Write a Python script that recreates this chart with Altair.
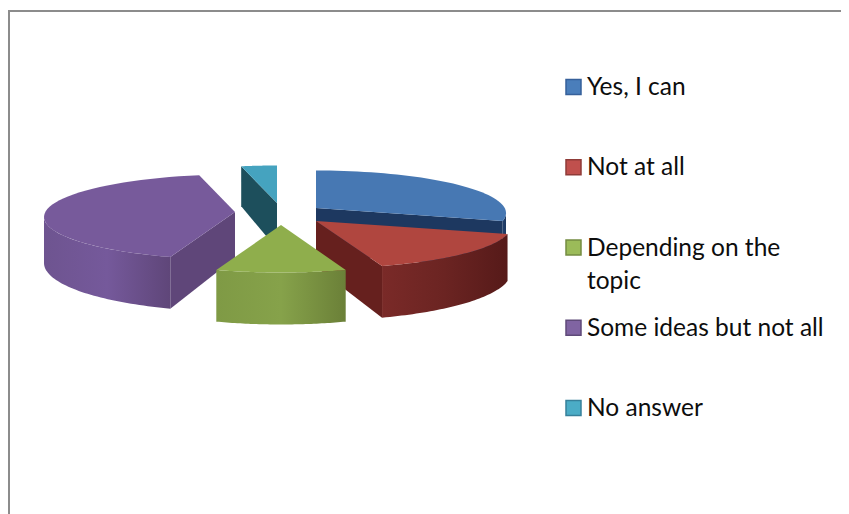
import math
import altair as alt

# ---- data -------------------------------------------------------------
categories = ["Yes, I can", "Not at all", "Depending on the\ntopic",
              "Some ideas but not all", "No answer"]
shares = [28, 16.5, 11, 41.5, 3]

# ---- styling ----------------------------------------------------------
top_colors = ["#4778B3", "#B0463F", "#8FAE4C", "#775A9B", "#45A3BF"]
legend_fill = ["#4A7EBB", "#C0504D", "#9BBB59", "#8064A2", "#4BACC6"]
legend_edge = ["#36609A", "#8F3B38", "#748C42", "#5F4A79", "#37809A"]
face_colors = ["#1D3860", "#66201E", "#6B8038", "#5F4679", "#1D4F5C"]
wall_stops = [
    ["#21406E", "#1D3860"],
    ["#7A2A28", "#6B2422", "#561A19"],
    ["#7F9A45", "#86A24A", "#6B8038"],
    ["#6E5490", "#75599B", "#5F4679"],
    ["#1D4F5C", "#1D4F5C"],
]

# ---- projection of the tilted pie (page pixels, less the 8px margin) ---
apex = [(308, 200), (308, 213), (273, 217), (227, 204), (269, 195)]
radius_x = [190, 195, 191, 191, 191]
RY, SHIFT = 42.5, 5


def rim(a, theta, rx):
    return [a[0] + rx * math.sin(theta),
            a[1] + SHIFT - RY * math.cos(theta)]


def drop(theta):
    return 46 - 6 * math.cos(theta)


def down(p, h):
    return [p[0], p[1] + h]


def angles(t0, t1, n=48):
    return [t0 + (t1 - t0) * i / n for i in range(n + 1)]


def shape(chain, fill):
    ring = [list(p) for p in chain] + [list(chain[0])]
    feature = {"type": "Feature", "properties": {},
               "geometry": {"type": "Polygon", "coordinates": [ring]}}
    return alt.Chart(alt.Data(values=[feature])).mark_geoshape(
        fill=fill, stroke="transparent", strokeWidth=0
    ).project(type="identity", scale=1, translate=[0, 0], reflectY=False)


def gradient(cols):
    n = len(cols) - 1
    return alt.Gradient(
        gradient="linear", x1=0, x2=1, y1=0, y2=0,
        stops=[alt.GradientStop(color=c, offset=i / n) for i, c in enumerate(cols)],
    )


spans = []
acc = 0
for s in shares:
    spans.append((acc / sum(shares) * 2 * math.pi,
                  (acc + s) / sum(shares) * 2 * math.pi))
    acc += s

layers = []
# frame
layers.append(alt.Chart(alt.Data(values=[{"a": 0}])).mark_rule(
    color="#8C8C8C", strokeWidth=2
).encode(x=alt.value(1), y=alt.value(2), y2=alt.value(506)))
layers.append(alt.Chart(alt.Data(values=[{"a": 0}])).mark_rule(
    color="#8C8C8C", strokeWidth=2
).encode(x=alt.value(0), x2=alt.value(833), y=alt.value(3)))

for i in [4, 3, 0, 1, 2]:
    t0, t1 = spans[i]
    a = apex[i]
    rx = radius_x[i]
    lo, hi = max(t0, math.pi / 2), min(t1, 3 * math.pi / 2)
    if hi > lo:
        ts = angles(lo, hi)
        chain = [rim(a, t, rx) for t in ts] + [down(rim(a, t, rx), drop(t)) for t in reversed(ts)]
        layers.append(shape(chain, gradient(wall_stops[i])))
    if t1 < math.pi:
        p = rim(a, t1, rx)
        layers.append(shape([a, p, down(p, drop(t1)), down(a, 46)], face_colors[i]))
    if t0 > math.pi:
        p = rim(a, t0, rx)
        layers.append(shape([a, p, down(p, drop(t0)), down(a, 46)], face_colors[i]))
    layers.append(shape([a] + [rim(a, t, rx) for t in angles(t0, t1)], top_colors[i]))

legend_rows = alt.Data(values=[{"name": n} for n in categories])
row_y = alt.Y("name:N", axis=None,
              scale=alt.Scale(type="point", domain=categories, range=[79, 400], padding=0))
layers.append(alt.Chart(legend_rows).mark_square(size=225, opacity=1, strokeWidth=1.5).encode(
    x=alt.value(565.5), y=row_y,
    fill=alt.Fill("name:N", scale=alt.Scale(domain=categories, range=legend_fill), legend=None),
    stroke=alt.Stroke("name:N", scale=alt.Scale(domain=categories, range=legend_edge), legend=None),
))
layers.append(alt.Chart(legend_rows).mark_text(
    align="left", baseline="alphabetic", dy=8, font="Lato", fontSize=24.5,
    color="#0D0D0D", lineBreak="\n", lineHeight=33
).encode(x=alt.value(579), y=row_y, text="name:N"))

chart = alt.layer(*layers).resolve_scale(y="shared").properties(
    width=833, height=506, padding=0, autosize=alt.AutoSizeParams(type="none"),
    background="white"
).configure_view(stroke=None)

chart.save("out.html", embed_options={"renderer": "svg", "actions": False})
